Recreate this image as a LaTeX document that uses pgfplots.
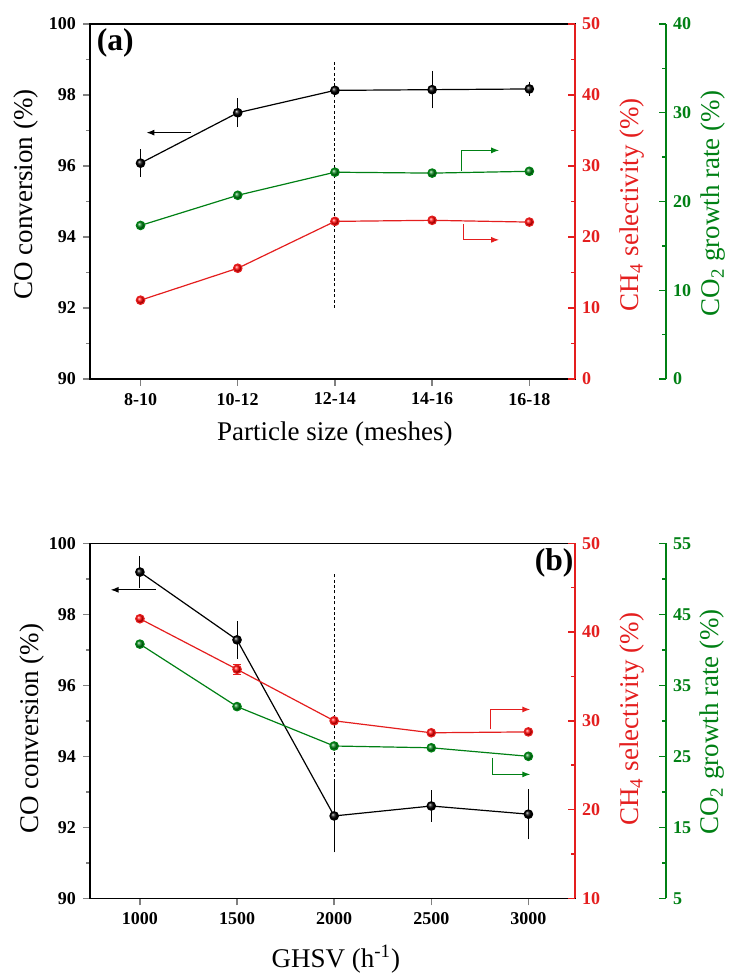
\documentclass[border=0pt]{standalone}
\usepackage{fontspec}
\setmainfont{Liberation Serif}
\usepackage{pgfplots}
\pgfplotsset{compat=1.18}
\usetikzlibrary{arrows.meta}
\definecolor{cred}{RGB}{228,30,30}
\definecolor{cgreen}{RGB}{0,128,20}

\pgfplotsset{
  panel/.style={scale only axis, width=242.5pt, height=177.5pt,
    /pgf/number format/assume math mode=true,
    /pgf/number format/1000 sep={},
    tick label style={font=\fontsize{9}{10}\selectfont\bfseries},
    label style={font=\fontsize{13.5}{15}\selectfont},
    axis line style={line width=0.8pt},
    major tick length=3.5pt, minor tick length=2pt,
    every tick/.append style={line width=0.7pt},
    clip=false},
  main/.style={panel, tick align=outside, xtick pos=bottom, ytick pos=left,
    ymin=90, ymax=100, ytick={90,92,...,100}, minor y tick num=1},
  redax/.style={panel, axis x line=none, axis y line*=right, tick align=inside,
    axis line style={cred}, tick style={cred}, ticklabel style={cred},
    ylabel style={cred}, minor y tick num=1},
  greenax/.style={panel, axis x line=none, axis y line*=right, tick align=inside,
    axis line style={cgreen}, tick style={cgreen}, ticklabel style={cgreen},
    ylabel style={cgreen}, minor y tick num=1},
  blk/.style={black, line width=0.6pt, mark=ball, mark options={ball color=black}, mark size=2.1pt,
    error bars/.cd, y dir=both, y explicit,
    error bar style={line width=0.5pt, black},
    error mark options={line width=0.5pt, mark size=2.6pt, black}},
  rd/.style={cred, line width=0.6pt, mark=ball, mark options={ball color=red}, mark size=2.1pt},
  gr/.style={cgreen, line width=0.6pt, mark=ball, mark options={ball color=cgreen}, mark size=2.1pt},
  arr/.style={line width=0.6pt, no marks, -{Latex[length=4pt,width=3pt]}},
}

\begin{document}
\begin{tikzpicture}
\useasboundingbox (-45pt,189.5pt) rectangle (322pt,-297.5pt);

% ---------------- panel (a)
\begin{axis}[main, at={(0,0)},
  xmin=-0.52, xmax=4.47, xtick={0,1,2,3,4},
  xticklabels={8-10,10-12,12-14,14-16,16-18},
  xlabel={Particle size (meshes)},
  xlabel style={at={(axis description cs:0.505,-0.156)}, anchor=center},
  ylabel={CO conversion (\%)},
  ylabel style={at={(axis description cs:-0.132,0.52)}, anchor=center}]
\addplot[black, dashed, dash pattern=on 1.5pt off 1.2pt, line width=0.5pt, no marks] coordinates {(2,92.0) (2,98.95)};
\addplot[blk] coordinates {
  (0,96.08) +- (0,0.24)
  (1,97.50) +- (0,0.26)
  (2,98.13) +- (0,0.05)
  (3,98.15) +- (0,0.38)
  (4,98.17) +- (0,0.05)
};
\addplot[arr, black] coordinates {(0.52,96.94) (0.06,96.94)};
\addplot[arr, cgreen] coordinates {(3.30,95.87) (3.30,96.44) (3.69,96.44)};
\addplot[arr, cred] coordinates {(3.32,94.37) (3.32,93.92) (3.69,93.92)};
\node[font=\fontsize{15.8}{17}\selectfont\bfseries] at (rel axis cs:0.052,0.948) {(a)};
\end{axis}

\begin{axis}[redax, at={(0,0)}, xmin=-0.52, xmax=4.47,
  ymin=0, ymax=50, ytick={0,10,...,50},
  ylabel={CH\textsubscript{4} selectivity (\%)},
  ylabel style={at={(axis description cs:1.117,0.491)}, anchor=center}]
\addplot[rd] coordinates {(0,11.1) (1,15.6) (2,22.2) (3,22.35) (4,22.1)};
\end{axis}

\begin{axis}[panel, hide axis, at={(0,0)}, xmin=-0.52, xmax=4.47, ymin=0, ymax=40]
\addplot[gr] coordinates {(0,17.3) (1,20.7) (2,23.3) (3,23.2) (4,23.4)};
\end{axis}

\begin{axis}[greenax, at={(45.5pt,0)}, xmin=0, xmax=1,
  ymin=0, ymax=40, ytick={0,10,...,40},
  ylabel={CO\textsubscript{2} growth rate (\%)},
  ylabel style={at={(axis description cs:1.097,0.494)}, anchor=center}]
\addplot[draw=none] coordinates {(0.5,20)};
\end{axis}

% ---------------- panel (b)
\begin{axis}[main, at={(0,-259.65pt)},
  xmin=743, xmax=3240, xtick={1000,1500,2000,2500,3000},
  xticklabels={1000,1500,2000,2500,3000},
  xlabel={GHSV (h\textsuperscript{-1})},
  xlabel style={at={(axis description cs:0.507,-0.172)}, anchor=center},
  ylabel={CO conversion (\%)},
  ylabel style={at={(axis description cs:-0.119,0.478)}, anchor=center}]
\addplot[black, dashed, dash pattern=on 1.5pt off 1.2pt, line width=0.5pt, no marks] coordinates {(2000,92.35) (2000,99.13)};
\addplot[blk] coordinates {
  (1000,99.19) +- (0,0.30)
  (1500,97.28) +- (0,0.38)
  (2000,92.32) +- (0,0.88)
  (2500,92.60) +- (0,0.30)
  (3000,92.37) +- (0,0.56)
};
\addplot[arr, black] coordinates {(1081,98.69) (849,98.69)};
\addplot[arr, cred] coordinates {(2804,94.76) (2804,95.32) (3010,95.32)};
\addplot[arr, cgreen] coordinates {(2814,93.96) (2814,93.49) (3010,93.49)};
\node[font=\fontsize{15.8}{17}\selectfont\bfseries] at (rel axis cs:0.957,0.945) {(b)};
\end{axis}

\begin{axis}[redax, at={(0,-259.65pt)}, xmin=743, xmax=3240,
  ymin=10, ymax=50, ytick={10,20,...,50},
  ylabel={CH\textsubscript{4} selectivity (\%)},
  ylabel style={at={(axis description cs:1.117,0.504)}, anchor=center}]
\addplot[rd, error bars/.cd, y dir=both, y explicit,
  error bar style={line width=0.5pt, cred}] coordinates {
  (1000,41.5) +- (0,0)
  (1500,35.8) +- (0,0.6)
  (2000,30.0) +- (0,0)
  (2500,28.65) +- (0,0)
  (3000,28.75) +- (0,0)
};
\end{axis}

\begin{axis}[panel, hide axis, at={(0,-259.65pt)}, xmin=743, xmax=3240, ymin=5, ymax=55]
\addplot[gr] coordinates {(1000,40.8) (1500,32.0) (2000,26.45) (2500,26.2) (3000,25.0)};
\end{axis}

\begin{axis}[greenax, at={(45.5pt,-259.65pt)}, xmin=0, xmax=1,
  ymin=5, ymax=55, ytick={5,15,...,55}, minor ytick={10,20,...,50}, minor y tick num=0,
  ylabel={CO\textsubscript{2} growth rate (\%)},
  ylabel style={at={(axis description cs:1.095,0.497)}, anchor=center}]
\addplot[draw=none] coordinates {(0.5,30)};
\end{axis}
\end{tikzpicture}
\end{document}
